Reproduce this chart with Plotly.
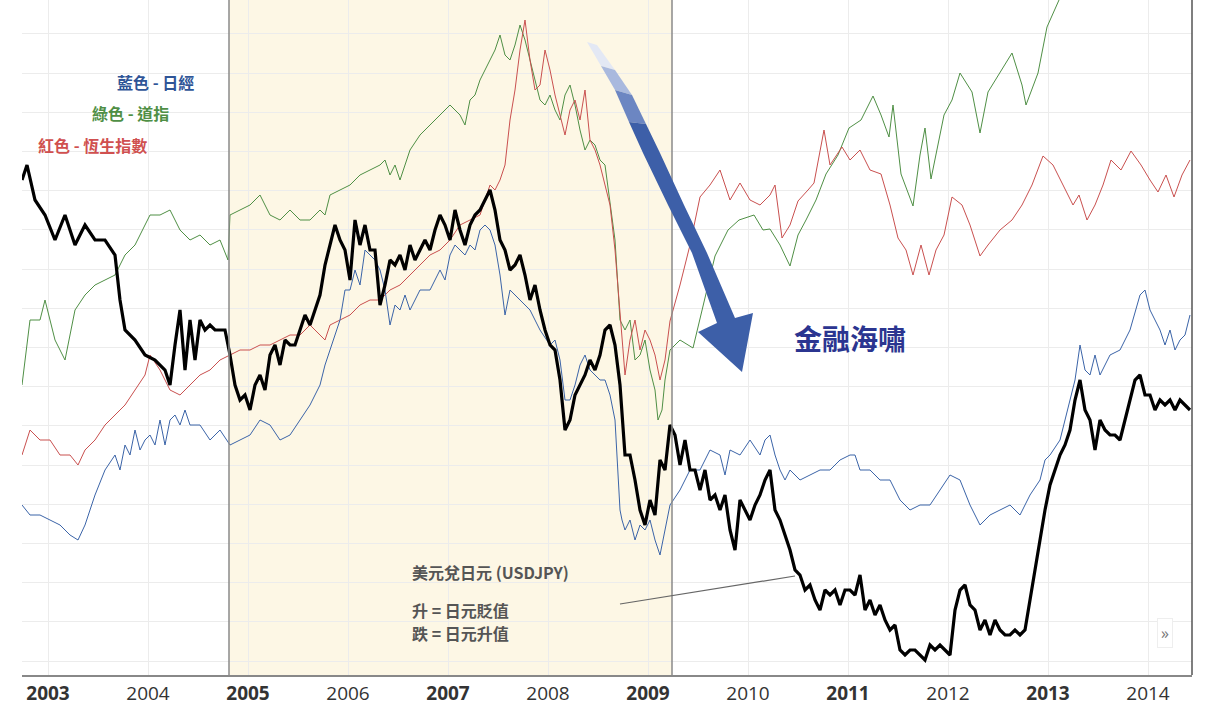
import numpy as np
import plotly.graph_objects as go

# USD/JPY (black) – head irregular, then regular ~0.05 yr sampling
usd_head_t = [2002.74, 2002.79, 2002.87, 2002.97, 2003.07, 2003.17, 2003.27, 2003.37, 2003.47, 2003.57,
              2003.67, 2003.72, 2003.77, 2003.87, 2003.97, 2004.07, 2004.17, 2004.22, 2004.27, 2004.32,
              2004.37, 2004.42, 2004.47, 2004.52]
usd_head_v = [495, 510, 475, 460, 435, 460, 430, 450, 435, 435,
              420, 375, 345, 335, 320, 315, 305, 290, 330, 365,
              305, 355, 315, 355]
usd_tail_start = 2004.57
usd_tail_v = [345, 350, 345, 345, 345, 320, 290, 275, 280, 265, 290, 300, 285, 320, 330, 310, 335, 330, 330, 345,
              360, 350, 365, 380, 410, 430, 450, 435, 425, 395, 455, 430, 450, 425, 425, 370, 390, 415, 410, 420,
              405, 430, 415, 425, 435, 425, 445, 460, 450, 435, 465, 445, 430, 450, 460, 465, 475, 485, 465, 435,
              425, 405, 410, 420, 400, 375, 390, 365, 345, 330, 325, 295, 245, 255, 280, 290, 300, 315, 305, 320,
              345, 350, 330, 290, 220, 220, 195, 165, 150, 175, 160, 215, 205, 250, 240, 210, 235, 205, 205, 185,
              205, 175, 180, 165, 180, 145, 125, 175, 165, 155, 170, 180, 195, 205, 165, 155, 140, 125, 105, 100,
              85, 90, 75, 65, 85, 80, 85, 70, 85, 85, 80, 100, 65, 75, 60, 70, 55, 45, 50, 25,
              20, 25, 25, 20, 15, 30, 25, 30, 25, 20, 65, 85, 90, 70, 65, 45, 55, 40, 55, 45,
              40, 40, 45, 40, 45, 75, 105, 135, 165, 190, 205, 220, 230, 245, 275, 295, 265, 255, 225, 255,
              245, 240, 240, 235, 255, 275, 295, 300, 280, 280, 265, 275, 270, 275, 265, 275, 270, 265]

# Nikkei (blue)
nk_t = [2002.74, 2002.82, 2002.92, 2003.02, 2003.12, 2003.22, 2003.30, 2003.37, 2003.47, 2003.57, 2003.67, 2003.72,
        2003.77, 2003.82, 2003.87, 2003.92, 2003.97, 2004.02, 2004.07, 2004.12, 2004.17, 2004.22, 2004.27, 2004.32,
        2004.37, 2004.42, 2004.52, 2004.62, 2004.72, 2004.82, 2004.92, 2005.02, 2005.12, 2005.22, 2005.32, 2005.42,
        2005.52, 2005.62, 2005.72, 2005.77, 2005.82, 2005.92, 2005.97, 2006.02, 2006.07, 2006.12, 2006.17, 2006.22,
        2006.27, 2006.32, 2006.37, 2006.42, 2006.47, 2006.52, 2006.57, 2006.62, 2006.72, 2006.82, 2006.92, 2006.97,
        2007.02, 2007.07, 2007.12, 2007.17, 2007.22, 2007.27, 2007.32, 2007.37, 2007.42, 2007.47, 2007.52, 2007.57,
        2007.62, 2007.72, 2007.82, 2007.92, 2008.02, 2008.07, 2008.12, 2008.17, 2008.22, 2008.27, 2008.32, 2008.37,
        2008.42, 2008.52, 2008.57, 2008.62, 2008.67, 2008.72, 2008.74, 2008.77, 2008.82, 2008.87, 2008.92, 2008.97,
        2009.02, 2009.07, 2009.12, 2009.17, 2009.22, 2009.32, 2009.42, 2009.52, 2009.62, 2009.72, 2009.77, 2009.82,
        2009.92, 2010.02, 2010.12, 2010.17, 2010.22, 2010.27, 2010.32, 2010.37, 2010.42, 2010.52, 2010.62, 2010.72,
        2010.82, 2010.92, 2011.02, 2011.07, 2011.12, 2011.22, 2011.32, 2011.42, 2011.52, 2011.62, 2011.72, 2011.82,
        2011.92, 2012.02, 2012.12, 2012.22, 2012.32, 2012.42, 2012.52, 2012.62, 2012.72, 2012.82, 2012.92, 2012.97,
        2013.02, 2013.12, 2013.17, 2013.22, 2013.27, 2013.32, 2013.37, 2013.42, 2013.47, 2013.52, 2013.57, 2013.62,
        2013.72, 2013.82, 2013.92, 2013.97, 2014.02, 2014.12, 2014.17, 2014.22, 2014.27, 2014.32, 2014.37, 2014.42]
nk_v = [170, 160, 160, 155, 150, 140, 135, 150, 180, 205, 220, 205,
        230, 220, 245, 225, 235, 240, 230, 255, 230, 255, 260, 250,
        265, 250, 250, 235, 245, 230, 235, 240, 255, 250, 235, 240,
        255, 270, 290, 310, 325, 355, 385, 385, 405, 390, 425, 420,
        415, 405, 385, 350, 370, 365, 380, 365, 385, 385, 405, 395,
        420, 430, 425, 420, 430, 425, 445, 450, 445, 430, 400, 360,
        385, 375, 365, 345, 330, 335, 315, 275, 275, 290, 310, 320,
        305, 295, 295, 280, 255, 165, 155, 145, 155, 135, 150, 145,
        155, 135, 120, 145, 170, 185, 205, 205, 225, 220, 200, 225,
        220, 235, 220, 235, 240, 220, 205, 195, 205, 195, 200, 205,
        205, 215, 220, 220, 205, 205, 195, 195, 175, 165, 170, 170,
        185, 200, 195, 170, 150, 160, 165, 170, 160, 180, 195, 215,
        220, 235, 255, 275, 295, 330, 305, 300, 320, 300, 310, 320,
        325, 345, 380, 385, 365, 345, 330, 345, 325, 335, 340, 360]

# Dow Jones (green)
dj_t = [2002.74, 2002.82, 2002.92, 2002.97, 2003.07, 2003.17, 2003.27, 2003.37, 2003.47, 2003.57, 2003.67, 2003.77,
        2003.87, 2003.97, 2004.02, 2004.12, 2004.22, 2004.32, 2004.42, 2004.52, 2004.62, 2004.72, 2004.80, 2004.82,
        2004.92, 2005.02, 2005.12, 2005.22, 2005.32, 2005.42, 2005.52, 2005.62, 2005.72, 2005.77, 2005.82, 2005.92,
        2006.02, 2006.12, 2006.22, 2006.32, 2006.37, 2006.42, 2006.47, 2006.52, 2006.62, 2006.72, 2006.82, 2006.92,
        2007.02, 2007.07, 2007.12, 2007.17, 2007.22, 2007.27, 2007.32, 2007.37, 2007.42, 2007.47, 2007.52, 2007.57,
        2007.62, 2007.67, 2007.72, 2007.77, 2007.82, 2007.87, 2007.92, 2007.97, 2008.02, 2008.07, 2008.12, 2008.17,
        2008.22, 2008.27, 2008.32, 2008.37, 2008.42, 2008.47, 2008.52, 2008.57, 2008.62, 2008.67, 2008.72, 2008.77,
        2008.82, 2008.87, 2008.92, 2008.97, 2009.02, 2009.07, 2009.10, 2009.14, 2009.17, 2009.22, 2009.27, 2009.32,
        2009.45, 2009.55, 2009.67, 2009.80, 2009.91, 2010.06, 2010.15, 2010.22, 2010.32, 2010.42, 2010.50, 2010.58,
        2010.68, 2010.78, 2010.90, 2011.01, 2011.13, 2011.25, 2011.33, 2011.41, 2011.45, 2011.53, 2011.65, 2011.72,
        2011.77, 2011.83, 2011.96, 2012.04, 2012.12, 2012.24, 2012.32, 2012.40, 2012.52, 2012.64, 2012.74, 2012.78,
        2012.90, 2012.99, 2013.11, 2013.17]
dj_v = [290, 355, 355, 375, 335, 315, 365, 380, 390, 395, 400, 420,
        430, 450, 460, 460, 465, 445, 435, 440, 430, 435, 415, 460,
        465, 470, 480, 460, 455, 465, 455, 455, 465, 460, 480, 485,
        490, 500, 505, 510, 515, 500, 510, 495, 525, 540, 550, 560,
        570, 565, 560, 550, 575, 580, 595, 605, 615, 625, 640, 620,
        615, 630, 650, 635, 615, 595, 575, 570, 580, 565, 555, 580,
        590, 570, 545, 525, 535, 530, 515, 510, 475, 435, 355, 345,
        355, 315, 320, 335, 305, 285, 255, 265, 295, 325, 330, 335,
        327, 370, 419, 445, 455, 460, 445, 446, 430, 409, 440, 455,
        475, 501, 520, 547, 555, 579, 560, 538, 570, 501, 469, 520,
        547, 496, 560, 575, 602, 583, 542, 583, 602, 622, 590, 570,
        602, 648, 675, 690]

# Hang Seng (red)
hs_t = [2002.74, 2002.82, 2002.92, 2003.02, 2003.12, 2003.22, 2003.30, 2003.37, 2003.47, 2003.57, 2003.67, 2003.77,
        2003.87, 2003.97, 2004.02, 2004.12, 2004.22, 2004.32, 2004.42, 2004.52, 2004.62, 2004.72, 2004.82, 2004.92,
        2005.02, 2005.12, 2005.22, 2005.32, 2005.42, 2005.52, 2005.62, 2005.72, 2005.77, 2005.82, 2005.92, 2006.02,
        2006.12, 2006.22, 2006.32, 2006.42, 2006.52, 2006.62, 2006.72, 2006.82, 2006.92, 2007.02, 2007.12, 2007.22,
        2007.32, 2007.42, 2007.47, 2007.52, 2007.57, 2007.62, 2007.67, 2007.72, 2007.77, 2007.82, 2007.87, 2007.92,
        2007.97, 2008.02, 2008.07, 2008.12, 2008.17, 2008.22, 2008.27, 2008.32, 2008.37, 2008.42, 2008.47, 2008.52,
        2008.57, 2008.62, 2008.67, 2008.72, 2008.77, 2008.82, 2008.87, 2008.92, 2008.97, 2009.02, 2009.07, 2009.12,
        2009.17, 2009.22, 2009.32, 2009.42, 2009.52, 2009.62, 2009.72, 2009.77, 2009.82, 2009.92, 2010.02, 2010.12,
        2010.22, 2010.27, 2010.34, 2010.42, 2010.50, 2010.60, 2010.66, 2010.76, 2010.82, 2010.94, 2011.02, 2011.12,
        2011.22, 2011.33, 2011.42, 2011.50, 2011.58, 2011.65, 2011.73, 2011.81, 2011.88, 2011.96, 2012.04, 2012.14,
        2012.22, 2012.32, 2012.40, 2012.52, 2012.64, 2012.74, 2012.84, 2012.95, 2013.05, 2013.15, 2013.25, 2013.31,
        2013.39, 2013.47, 2013.55, 2013.63, 2013.73, 2013.83, 2013.93, 2014.02, 2014.10, 2014.18, 2014.26, 2014.34,
        2014.42]
hs_v = [220, 245, 235, 235, 220, 220, 210, 225, 235, 250, 260, 270,
        285, 300, 320, 305, 285, 280, 290, 300, 305, 315, 320, 325,
        325, 330, 330, 335, 340, 340, 350, 340, 335, 350, 355, 360,
        370, 375, 375, 385, 390, 400, 410, 420, 425, 435, 450, 455,
        460, 490, 485, 495, 510, 555, 585, 625, 655, 615, 585, 590,
        625, 605, 580, 560, 540, 565, 575, 555, 585, 535, 525, 510,
        490, 470, 425, 365, 300, 335, 355, 325, 345, 335, 320, 295,
        315, 354, 390, 430, 478, 490, 505, 490, 475, 492, 475, 470,
        480, 490, 437, 450, 474, 485, 492, 545, 510, 528, 515, 525,
        505, 501, 470, 437, 425, 400, 430, 400, 425, 440, 478, 470,
        450, 419, 430, 445, 455, 470, 490, 519, 510, 490, 470, 480,
        455, 470, 490, 515, 505, 524, 510, 495, 483, 500, 478, 500,
        515]

years = list(range(2003, 2015))
year_labels = [f"<b>{y}</b>" if y % 2 == 1 else str(y) for y in years]

usd_t = usd_head_t + list(np.round(usd_tail_start + 0.05 * np.arange(len(usd_tail_v)), 2))
usd_v = usd_head_v + usd_tail_v

fig = go.Figure()
fig.add_trace(go.Scatter(x=dj_t, y=dj_v, mode="lines", line=dict(color="#4f8f45", width=1), hoverinfo="skip"))
fig.add_trace(go.Scatter(x=hs_t, y=hs_v, mode="lines", line=dict(color="#c9504f", width=1), hoverinfo="skip"))
fig.add_trace(go.Scatter(x=nk_t, y=nk_v, mode="lines", line=dict(color="#3b64a8", width=1), hoverinfo="skip"))
fig.add_trace(go.Scatter(x=usd_t, y=usd_v, mode="lines", line=dict(color="#000000", width=3.2), hoverinfo="skip"))

# shaded period
fig.add_shape(type="rect", x0=2004.81, x1=2009.24, y0=0, y1=675, fillcolor="#fdf7e5",
              line=dict(width=0), layer="below")
for xv in (2004.81, 2009.24):
    fig.add_shape(type="line", x0=xv, x1=xv, y0=0, y1=675, line=dict(color="#8a8a8a", width=1.5))

# big arrow (gradient approximated by segments)
fig.add_shape(type="path", path="M 2008.39,633 L 2008.53,609 L 2008.67,605 L 2008.49,630 Z",
              fillcolor="#e3e8f4", line=dict(width=0))
fig.add_shape(type="path", path="M 2008.53,609 L 2008.67,585 L 2008.84,580 L 2008.67,605 Z",
              fillcolor="#a9b9de", line=dict(width=0))
fig.add_shape(type="path", path="M 2008.67,585 L 2008.81,553 L 2008.98,551 L 2008.84,580 Z",
              fillcolor="#6c86c2", line=dict(width=0))
fig.add_shape(type="path",
              path="M 2008.81,553 L 2008.95,522 L 2009.20,470 L 2009.44,422 L 2009.69,352 L 2009.50,343 "
                   "L 2009.94,303 L 2010.05,362 L 2009.87,357 L 2009.59,422 L 2009.36,470 L 2009.12,522 L 2008.98,551 Z",
              fillcolor="#3d5fa8", line=dict(width=0))

# pointer line
fig.add_shape(type="line", x0=2008.72, y0=71, x1=2010.47, y1=99, line=dict(color="#666", width=1.2))
# right border
fig.add_shape(type="line", xref="paper", yref="paper", x0=1, x1=1, y0=0, y1=1, line=dict(color="#555", width=1.5))

F = "Noto Sans CJK TC"
ann = [
    dict(x=2004.07, y=593, text="<b>藍色 - 日經</b>", font=dict(color="#2f5597", size=16, family=F)),
    dict(x=2003.82, y=562, text="<b>綠色 - 道指</b>", font=dict(color="#4f8f45", size=16, family=F)),
    dict(x=2003.44, y=530, text="<b>紅色 - 恆生指數</b>", font=dict(color="#d0504f", size=16, family=F)),
    dict(x=2011.02, y=337, text="<b>金融海嘯</b>", font=dict(color="#2b3590", size=28, family=F)),
    dict(x=2006.62, y=103, text="<b>美元兌日元 (USDJPY)</b>", xanchor="left", font=dict(color="#555", size=16, family=F)),
    dict(x=2006.62, y=65, text="<b>升 = 日元貶值</b>", xanchor="left", font=dict(color="#555", size=16, family=F)),
    dict(x=2006.62, y=42, text="<b>跌 = 日元升值</b>", xanchor="left", font=dict(color="#555", size=16, family=F)),
    dict(x=2014.17, y=42, text="»", font=dict(color="#777", size=16), bgcolor="#ffffff",
         bordercolor="#eeeeee", borderwidth=1, borderpad=3),
]
for a in ann:
    a.setdefault("xanchor", "center")
    fig.add_annotation(showarrow=False, **a)

fig.update_layout(
    width=1218, height=717, margin=dict(l=22, r=26, t=0, b=42),
    paper_bgcolor="white", plot_bgcolor="white", showlegend=False,
    xaxis=dict(range=[2002.74, 2014.44], tickvals=years, ticktext=year_labels, showgrid=True,
               gridcolor="#ececec", zeroline=False, showline=True, linecolor="#888", linewidth=1.5,
               tickfont=dict(family="Open Sans", size=19, color="#333"), ticks=""),
    yaxis=dict(range=[0, 675], showticklabels=False, tick0=14, dtick=39.2, gridcolor="#ececec",
               zeroline=False, showline=False),
)
fig.write_html("out.html", config={"displayModeBar": False})
with open("out.html", encoding="utf-8") as f:
    html = f.read()
html = html.replace("<body>", '<body style="margin:0;overflow:hidden">', 1)
with open("out.html", "w", encoding="utf-8") as f:
    f.write(html)
